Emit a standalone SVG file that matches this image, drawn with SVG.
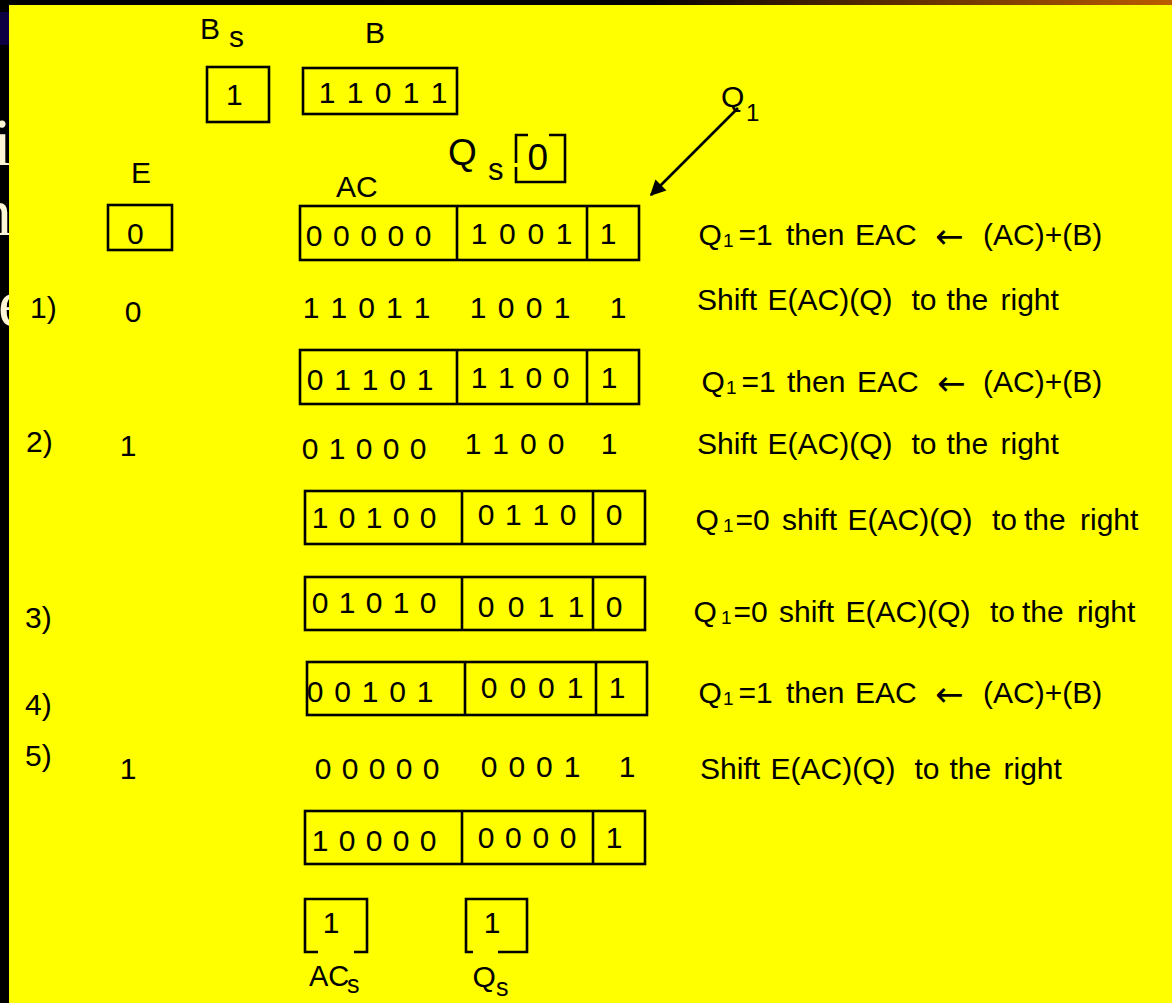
<svg xmlns="http://www.w3.org/2000/svg" width="1172" height="1003" viewBox="0 0 1172 1003">
<defs>
<linearGradient id="topbar" x1="0" y1="0" x2="1172" y2="0" gradientUnits="userSpaceOnUse">
<stop offset="0" stop-color="#000"/>
<stop offset="0.55" stop-color="#050200"/>
<stop offset="1" stop-color="#bb5c00"/>
</linearGradient>
<marker id="ah" viewBox="0 0 10 10" refX="9" refY="5" markerWidth="7" markerHeight="6" markerUnits="strokeWidth" orient="auto">
<path d="M0,0 L10,5 L0,10 z" fill="#000"/>
</marker>
<style>
.t{font-family:"Liberation Sans",Arial,sans-serif;fill:#000;font-size:30px}
.sub{font-size:19px}
.arr{font-family:"DejaVu Sans","Liberation Sans",sans-serif;font-size:34px}
.box{fill:none;stroke:#000;stroke-width:2.6}
.ln{stroke:#000;stroke-width:2.6;fill:none}
.bg{font-family:"Liberation Serif","Times New Roman",serif;fill:#fff6d6;font-size:68px}
</style>
</defs>
<rect x="0" y="0" width="1172" height="1003" fill="#000"/>
<rect x="0" y="0" width="1172" height="5" fill="url(#topbar)"/>
<rect x="0" y="12" width="12" height="33" fill="#0c0042"/>
<text class="bg" x="-7" y="165">i</text>
<text class="bg" x="-22" y="235">n</text>
<text class="bg" x="-2" y="326">e</text>
<rect x="9" y="5" width="1163" height="998" fill="#ffff00"/>

<g id="bs">
<text class="t" x="200" y="39">B</text>
<text class="t" x="229" y="47">s</text>
<rect class="box" x="207" y="67" width="62" height="55"/>
<text class="t" x="226" y="105">1</text>
</g>
<g id="b">
<text class="t" x="365" y="43">B</text>
<rect class="box" x="303" y="68" width="154" height="46"/>
<text class="t" x="318.7" y="103" textLength="128.8" lengthAdjust="spacing">1 1 0 1 1</text>
</g>
<g id="qs">
<text class="t" x="448" y="165" style="font-size:37px">Q</text>
<text class="t" x="488" y="180" style="font-size:31px">s</text>
<path class="ln" d="M528,135 H516 V163 M516,167 V182 H565 V135 H549"/>
<text class="t" x="527.5" y="170" style="font-size:37px">0</text>
</g>
<g id="q1label">
<text class="t" x="721" y="107">Q</text>
<text class="t" x="746" y="121" style="font-size:24px">1</text>
</g>
<g id="e">
<text class="t" x="131" y="183">E</text>
<rect class="box" x="108" y="205" width="64" height="45"/>
<text class="t" x="127" y="244">0</text>
</g>
<g id="ac">
<text class="t" x="336" y="197">AC</text>
</g>

<g id="row0">
<rect class="box" x="300" y="206" width="339" height="54"/>
<line class="ln" x1="457" y1="206" x2="457" y2="260"/>
<line class="ln" x1="587" y1="206" x2="587" y2="260"/>
<text class="t" x="305.7" y="246" textLength="125.7" lengthAdjust="spacing">0 0 0 0 0</text>
<text class="t" x="470.7" y="244" textLength="101.8" lengthAdjust="spacing">1 0 0 1</text>
<text class="t" x="599.7" y="244">1</text>
</g>
<g id="step1">
<text class="t" x="30" y="318">1)</text>
<text class="t" x="124.7" y="322">0</text>
<text class="t" x="302.7" y="318" textLength="127.8" lengthAdjust="spacing">1 1 0 1 1</text>
<text class="t" x="469.7" y="318" textLength="100.8" lengthAdjust="spacing">1 0 0 1</text>
<text class="t" x="609.7" y="318">1</text>
</g>
<g id="row1">
<rect class="box" x="300" y="350" width="339" height="54"/>
<line class="ln" x1="457" y1="350" x2="457" y2="404"/>
<line class="ln" x1="587" y1="350" x2="587" y2="404"/>
<text class="t" x="306.7" y="390" textLength="126.8" lengthAdjust="spacing">0 1 1 0 1</text>
<text class="t" x="470.7" y="388" textLength="98.7" lengthAdjust="spacing">1 1 0 0</text>
<text class="t" x="600.7" y="388">1</text>
</g>
<g id="step2">
<text class="t" x="26" y="452">2)</text>
<text class="t" x="119.7" y="456">1</text>
<text class="t" x="301.7" y="459" textLength="124.7" lengthAdjust="spacing">0 1 0 0 0</text>
<text class="t" x="464.7" y="454" textLength="99.7" lengthAdjust="spacing">1 1 0 0</text>
<text class="t" x="600.7" y="454">1</text>
</g>
<g id="row2">
<rect class="box" x="305" y="491" width="340" height="53"/>
<line class="ln" x1="462" y1="491" x2="462" y2="544"/>
<line class="ln" x1="593" y1="491" x2="593" y2="544"/>
<text class="t" x="311.7" y="528" textLength="124.7" lengthAdjust="spacing">1 0 1 0 0</text>
<text class="t" x="477.7" y="525" textLength="98.7" lengthAdjust="spacing">0 1 1 0</text>
<text class="t" x="605.7" y="525">0</text>
</g>
<g id="row3">
<text class="t" x="25" y="628">3)</text>
<rect class="box" x="305" y="577" width="340" height="53"/>
<line class="ln" x1="462" y1="577" x2="462" y2="630"/>
<line class="ln" x1="593" y1="577" x2="593" y2="630"/>
<text class="t" x="311.7" y="613" textLength="124.7" lengthAdjust="spacing">0 1 0 1 0</text>
<text class="t" x="477.7" y="617" textLength="106.8" lengthAdjust="spacing">0 0 1 1</text>
<text class="t" x="605.7" y="617">0</text>
</g>
<g id="row4">
<text class="t" x="25" y="715">4)</text>
<rect class="box" x="307" y="662" width="340" height="53"/>
<line class="ln" x1="465" y1="662" x2="465" y2="715"/>
<line class="ln" x1="596" y1="662" x2="596" y2="715"/>
<text class="t" x="306.7" y="702" textLength="126.8" lengthAdjust="spacing">0 0 1 0 1</text>
<text class="t" x="480.7" y="698" textLength="102.8" lengthAdjust="spacing">0 0 0 1</text>
<text class="t" x="608.7" y="698">1</text>
</g>
<g id="step5">
<text class="t" x="25" y="766">5)</text>
<text class="t" x="119.7" y="779">1</text>
<text class="t" x="314.7" y="779" textLength="124.7" lengthAdjust="spacing">0 0 0 0 0</text>
<text class="t" x="480.7" y="777" textLength="99.8" lengthAdjust="spacing">0 0 0 1</text>
<text class="t" x="618.7" y="777">1</text>
</g>
<g id="row5">
<rect class="box" x="305" y="811" width="340" height="53"/>
<line class="ln" x1="462" y1="811" x2="462" y2="864"/>
<line class="ln" x1="593" y1="811" x2="593" y2="864"/>
<text class="t" x="311.7" y="851" textLength="124.7" lengthAdjust="spacing">1 0 0 0 0</text>
<text class="t" x="477.7" y="848" textLength="98.7" lengthAdjust="spacing">0 0 0 0</text>
<text class="t" x="605.7" y="848">1</text>
</g>
<g id="acs">
<path class="ln" d="M318,952 H305 V899 H367 V952 H354"/>
<text class="t" x="322.7" y="933">1</text>
<text class="t" x="309" y="986" style="font-size:29px">AC</text>
<text class="t" x="347" y="993" style="font-size:25px">s</text>
</g>
<g id="qsb">
<path class="ln" d="M473,952 H466 V899 H527 V952 H498"/>
<text class="t" x="483.7" y="933">1</text>
<text class="t" x="472.5" y="987">Q</text>
<text class="t" x="496" y="996" style="font-size:25px">s</text>
</g>

<g id="notes">
<text class="t" y="245"><tspan x="698.5">Q</tspan><tspan class="sub" x="723" y="247">1</tspan><tspan x="738.5" y="245">=1</tspan><tspan x="786">then</tspan><tspan x="855">EAC</tspan><tspan class="arr" x="935" y="248">←</tspan><tspan x="983" y="245">(AC)+(B)</tspan></text>
<text class="t" y="310"><tspan x="697">Shift</tspan><tspan x="767.6">E(AC)(Q)</tspan><tspan x="911.5">to</tspan><tspan x="946.5">the</tspan><tspan x="1000.5">right</tspan></text>
<text class="t" y="392"><tspan x="701.5">Q</tspan><tspan class="sub" x="726" y="394">1</tspan><tspan x="741.5" y="392">=1</tspan><tspan x="787">then</tspan><tspan x="857">EAC</tspan><tspan class="arr" x="937" y="395">←</tspan><tspan x="983" y="392">(AC)+(B)</tspan></text>
<text class="t" y="454"><tspan x="697">Shift</tspan><tspan x="767.6">E(AC)(Q)</tspan><tspan x="911.5">to</tspan><tspan x="946.5">the</tspan><tspan x="1000.5">right</tspan></text>
<text class="t" y="530"><tspan x="695.5">Q</tspan><tspan class="sub" x="723" y="532">1</tspan><tspan x="735.5" y="530">=0</tspan><tspan x="782">shift</tspan><tspan x="847.6">E(AC)(Q)</tspan><tspan x="992">to</tspan><tspan x="1024">the</tspan><tspan x="1080">right</tspan></text>
<text class="t" y="622"><tspan x="693.5">Q</tspan><tspan class="sub" x="721" y="624">1</tspan><tspan x="733.5" y="622">=0</tspan><tspan x="779">shift</tspan><tspan x="845.6">E(AC)(Q)</tspan><tspan x="990">to</tspan><tspan x="1022">the</tspan><tspan x="1077">right</tspan></text>
<text class="t" y="703"><tspan x="698.5">Q</tspan><tspan class="sub" x="723" y="705">1</tspan><tspan x="738.5" y="703">=1</tspan><tspan x="786">then</tspan><tspan x="855">EAC</tspan><tspan class="arr" x="935" y="706">←</tspan><tspan x="983" y="703">(AC)+(B)</tspan></text>
<text class="t" y="779"><tspan x="700">Shift</tspan><tspan x="770.6">E(AC)(Q)</tspan><tspan x="914.5">to</tspan><tspan x="949.5">the</tspan><tspan x="1003.5">right</tspan></text>
</g>

<g id="connectors">
<line class="ln" x1="738" y1="108" x2="651" y2="195" marker-end="url(#ah)"/>
</g>
</svg>
